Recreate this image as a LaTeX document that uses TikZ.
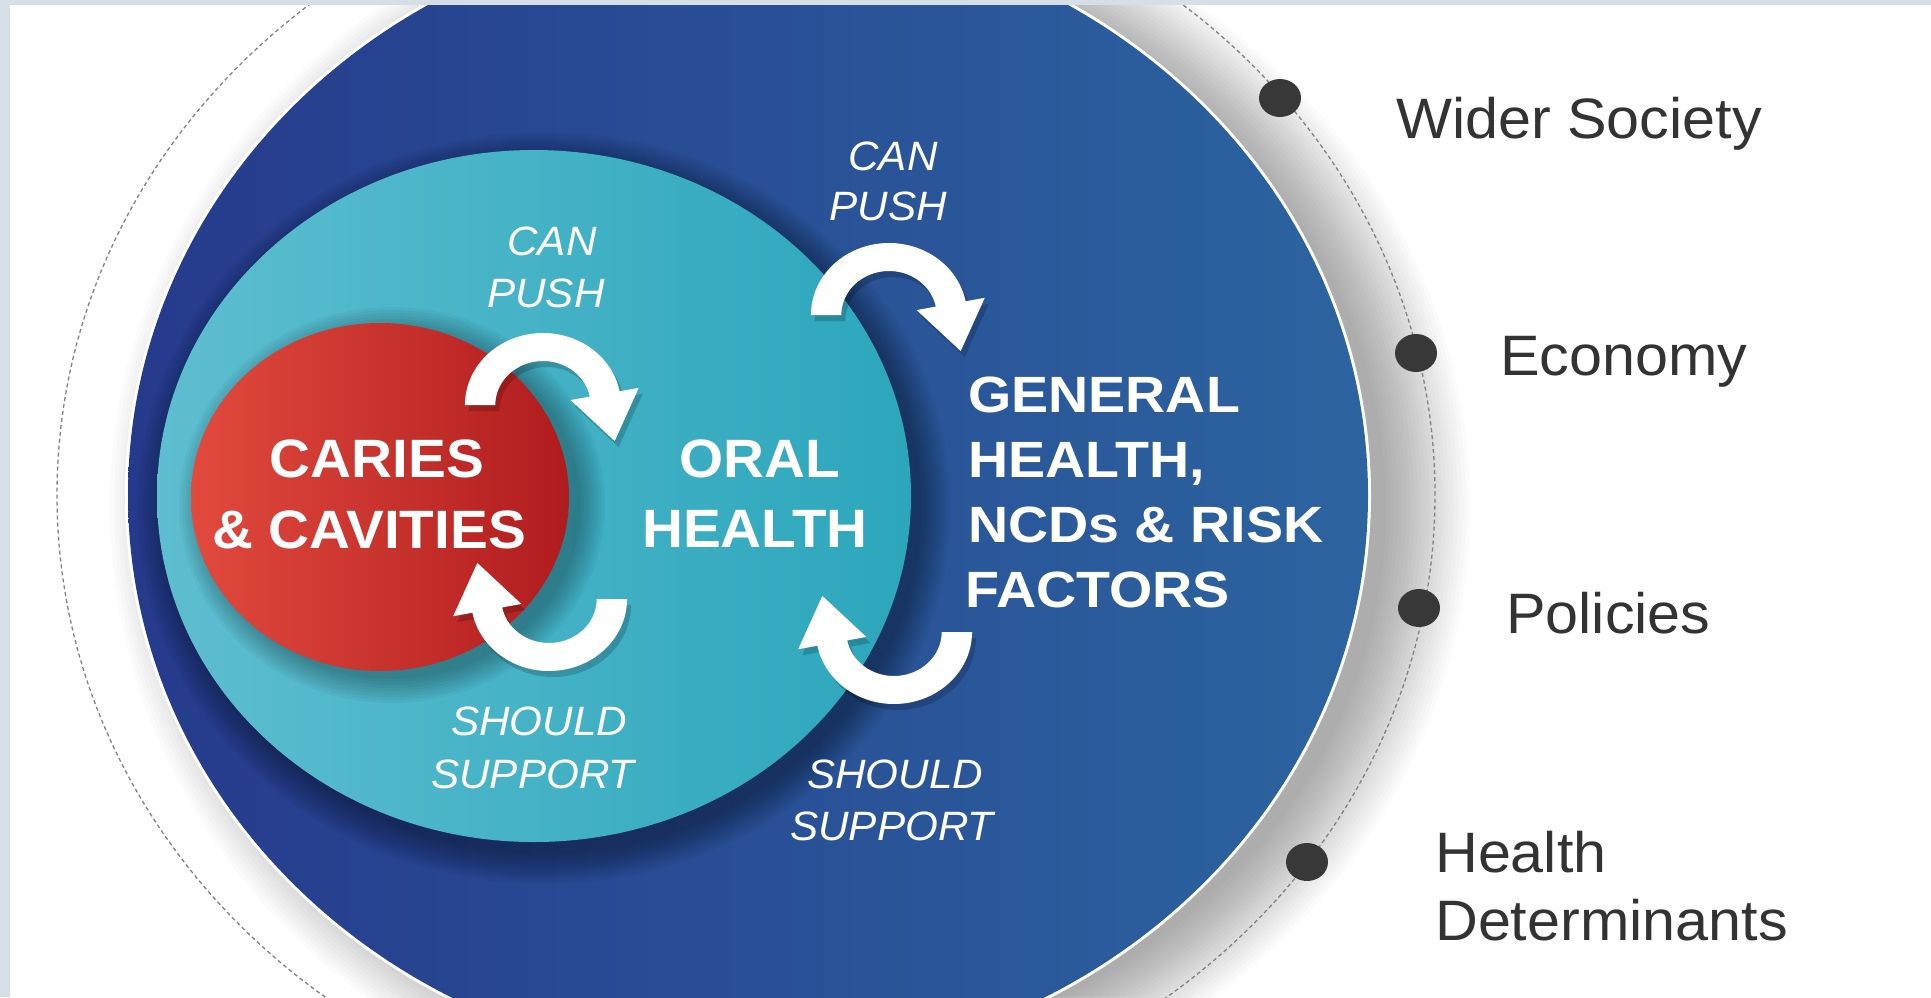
\documentclass[tikz,border=0pt]{standalone}
\usepackage{fontspec}
\setmainfont{Liberation Sans}
\newfontfamily\fbigA{Liberation Sans}[FakeStretch=1.05]
\newfontfamily\fbigB{Liberation Sans}[FakeStretch=1.09]
\newfontfamily\fital{Liberation Sans}[FakeStretch=1.03]
\newfontfamily\fside{Liberation Sans}[FakeStretch=1.04]
\usetikzlibrary{shapes.geometric}

\definecolor{framec}{RGB}{214,222,231}
\definecolor{blueL}{RGB}{38,58,140}
\definecolor{blueR}{RGB}{44,100,160}
\definecolor{tealL}{RGB}{94,190,208}
\definecolor{tealM}{RGB}{58,173,193}
\definecolor{tealR}{RGB}{44,166,188}
\definecolor{redL}{RGB}{226,74,62}
\definecolor{redR}{RGB}{176,28,30}
\definecolor{dotc}{RGB}{56,56,56}
\definecolor{sidetext}{RGB}{51,51,51}
\definecolor{dashc}{RGB}{130,130,130}

\newcommand{\loopshape}{(180:72) -- plot[domain=180:349,samples=60] ({72*cos(\x)},{72*sin(\x)}) -- (349:90) -- (66.1,36.05) -- (349:26) -- plot[domain=349:180,samples=60] ({44*cos(\x)},{44*sin(\x)}) -- cycle}

\newcommand{\loopar}[3]{%
  \begin{scope}[shift={(#1+4,#2+6)}, xscale=1.084, rotate=#3]
    \fill[black, opacity=0.18] \loopshape;
  \end{scope}
  \begin{scope}[shift={(#1,#2)}, xscale=1.084, rotate=#3]
    \fill[white] \loopshape;
  \end{scope}}

\tikzset{
  bigA/.style={text=white, font=\fbigA\bfseries\fontsize{54}{60}\selectfont, inner sep=0pt, anchor=base},
  bigB/.style={text=white, font=\fbigB\bfseries\fontsize{51}{56}\selectfont, inner sep=0pt, anchor=base west},
  ital/.style={text=white, font=\fital\itshape\fontsize{41}{48}\selectfont, inner sep=0pt, anchor=base},
  side/.style={text=sidetext, font=\fside\fontsize{57}{65}\selectfont, inner sep=0pt, anchor=base west},
  bulletdot/.style={ellipse, fill=dotc, minimum width=42pt, minimum height=38pt, inner sep=0pt},
}

\begin{document}
\begin{tikzpicture}[x=1pt, y=-1pt]
\useasboundingbox (0,0) rectangle (1931,997);
\clip (0,0) rectangle (1931,997);
\fill[white] (0,0) rectangle (1931,997);

% soft shadow of the big disc
\foreach \i [evaluate=\i as \rx using 596+4*\i, evaluate=\i as \ry using (596+4*\i)/1.084] in {0,...,21}
  \fill[black, opacity=0.014] (790,507) ellipse [x radius=\rx pt, y radius=\ry pt];
\fill[white] (748,495) ellipse [x radius=623pt, y radius=575pt];

% dashed orbit
\draw[dashc, line width=1.3pt, dash pattern=on 4pt off 3pt] (746,495) ellipse [x radius=689pt, y radius=634pt];

% big blue disc
\shade[left color=blueL, right color=blueR] (748,495) ellipse [x radius=620pt, y radius=572pt];

% teal shadow and disc
\foreach \i [evaluate=\i as \rx using 377+3*\i, evaluate=\i as \ry using 346+3*\i] in {0,...,10}
  \fill[black, opacity=0.035] (544,508) ellipse [x radius=\rx pt, y radius=\ry pt];
\shade[left color=tealL, middle color=tealM, right color=tealR] (534,496) ellipse [x radius=377pt, y radius=346pt];

% red shadow and disc
\begin{scope}
  \clip (534,496) ellipse [x radius=377pt, y radius=346pt];
  \foreach \i [evaluate=\i as \rx using 189+3*\i, evaluate=\i as \ry using 174+3*\i] in {0,...,8}
    \fill[black, opacity=0.035] (392,505) ellipse [x radius=\rx pt, y radius=\ry pt];
\end{scope}
\shade[left color=redL, right color=redR] (380,497) ellipse [x radius=189pt, y radius=174pt];

% curved arrows
\loopar{543}{405}{0}
\loopar{549}{599}{180}
\loopar{889}{315}{0}
\loopar{894}{632}{180}

% main labels
\node[bigA] (caries1) at (377,477) {CARIES};
\node[bigA] (caries2) at (369,548) {\& CAVITIES};
\node[bigA] (oral1) at (760,477) {ORAL};
\node[bigA] (oral2) at (755,547) {HEALTH};
\node[bigB] (gen1) at (968,412) {GENERAL};
\node[bigB] (gen2) at (968,477) {HEALTH,};
\node[bigB] (gen3) at (968,542) {NCDs \& RISK};
\node[bigB] (gen4) at (965,607) {FACTORS};

% arrow labels
\node[ital] (ican) at (552,255) {CAN};
\node[ital] (ipush) at (546,307) {PUSH};
\node[ital] (ocan) at (893,170) {CAN};
\node[ital] (opush) at (888,220) {PUSH};
\node[ital] (ishould) at (539,735) {SHOULD};
\node[ital] (isupport) at (533,788) {SUPPORT};
\node[ital] (oshould) at (895,788) {SHOULD};
\node[ital] (osupport) at (892,840) {SUPPORT};

% orbit bullets and side labels
\node[bulletdot] (d1) at (1280,98) {};
\node[bulletdot] (d2) at (1416,353) {};
\node[bulletdot] (d3) at (1419,608) {};
\node[bulletdot] (d4) at (1307,862) {};
\node[side] (wider) at (1396,138) {Wider Society};
\node[side] (econ) at (1500,375) {Economy};
\node[side] (pol) at (1506,633) {Policies};
\node[side] (hd1) at (1435,872) {Health};
\node[side] (hd2) at (1435,940) {Determinants};

% frame strips
\fill[framec] (0,0) rectangle (1931,5);
\fill[framec] (0,0) rectangle (10,997);
\end{tikzpicture}
\end{document}
